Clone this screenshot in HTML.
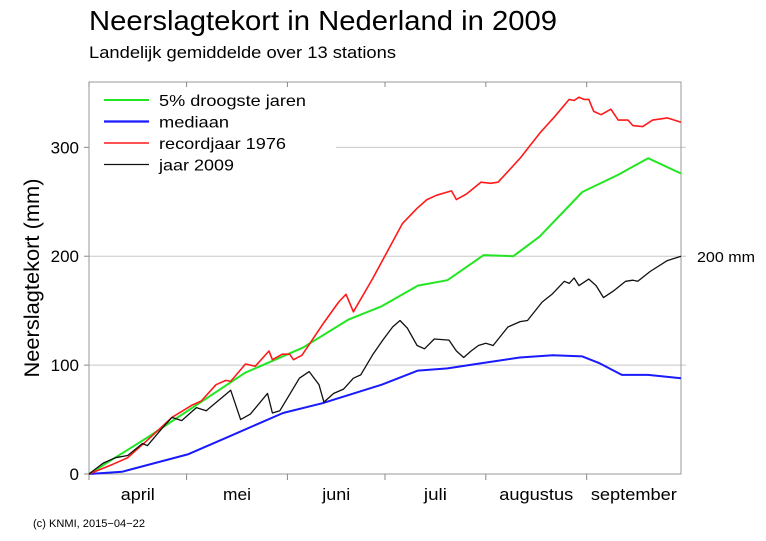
<!DOCTYPE html>
<html><head><meta charset="utf-8"><style>
html,body{margin:0;padding:0;background:#fff;}
svg{display:block;font-family:"Liberation Sans",sans-serif;}
</style></head><body>
<svg id="chart" width="766" height="541" viewBox="0 0 766 541">
<text x="89" y="30" font-size="28" textLength="468" lengthAdjust="spacingAndGlyphs">Neerslagtekort in Nederland in 2009</text>
<text x="89" y="58" font-size="17" textLength="307" lengthAdjust="spacingAndGlyphs">Landelijk gemiddelde over 13 stations</text>
<text transform="translate(39,278) rotate(-90)" text-anchor="middle" font-size="21" textLength="199" lengthAdjust="spacingAndGlyphs">Neerslagtekort (mm)</text>
<g id="grid"></g>
<g id="axes"></g>
<g id="series"></g>
<g id="legend"></g>
<text x="697" y="262" font-size="15" textLength="58" lengthAdjust="spacingAndGlyphs">200 mm</text>
<text x="33" y="527" font-size="11" textLength="112" lengthAdjust="spacingAndGlyphs">(c) KNMI, 2015−04−22</text>
</svg>
<script>
const yTicks = [0, 100, 200, 300];
const months = ["april", "mei", "juni", "juli", "augustus", "september"];
const monthStarts = [0, 30, 61, 91, 122, 153];
const greenDays = [0,18,47.5,65,79,89,100,109,120,129,137,150,161,170,180];
const greenVals = [0,34,93,116,142,154,173,178,201,200,218,259,275,290,276];
const blueDays = [0,10,30,43,59,71,89,100,109,120,131,141,150,155,162,170,180];
const blueVals = [0,2,18,35,56,65,82,95,97,102,107,109,108,102,91,91,88];
const redZx = [181,230,260,300,350,390,410,440,460,470,500,520,548,555,575,590,598,615,660,690,705,720,760,820,850,870,890,920,930,950,980,1000,1015,1060,1100,1130,1160,1170,1180,1190,1200,1210,1225,1245,1260,1280,1290,1310,1330,1360,1388];
const redVals = [0,9,15,31,52,63,67,82,86,85,101,99,113,105,110,110,105,109,139,158,165,149,180,230,244,252,256,260,252,257,268,267,268,290,313,328,344,343,346,344,344,333,330,335,325,325,320,319,325,327,323];
const blackZx = [181,210,235,260,290,300,330,350,370,400,420,470,490,510,545,555,570,610,630,650,660,680,700,720,735,760,780,800,815,830,850,865,885,915,930,945,960,975,990,1005,1035,1060,1075,1105,1125,1150,1160,1170,1180,1200,1215,1230,1250,1275,1290,1300,1325,1360,1388];
const blackVals = [0,10,15,17,28,26,42,52,49,61,58,77,50,55,74,56,58,88,94,82,66,74,78,88,91,110,123,135,141,134,118,115,124,123,113,107,113,118,120,118,135,140,141,158,165,177,175,180,173,179,173,162,168,177,178,177,186,196,200];

const X0 = 89, X1 = 681, Y0 = 474, YTOP = 82, DMAX = 182, VMAX = 360;
const READ = 182 / 180;
const redDays = redZx.map(z => (z - 181) * 180 / 1207 * READ);
const blackDays = blackZx.map(z => (z - 181) * 180 / 1207 * READ);
const greenDaysA = greenDays.map(d => d * READ);
const blueDaysA = blueDays.map(d => d * READ);
const xs = d => X0 + d * (X1 - X0) / DMAX;
const ys = v => Y0 - v * (Y0 - YTOP) / VMAX;
const NS = "http://www.w3.org/2000/svg";
function mk(tag, attrs, parent) {
  const e = document.createElementNS(NS, tag);
  for (const k in attrs) e.setAttribute(k, attrs[k]);
  parent.appendChild(e);
  return e;
}
const grid = document.getElementById("grid"), axes = document.getElementById("axes"),
      series = document.getElementById("series"), legend = document.getElementById("legend");

yTicks.forEach(t => {
  if (t > 0) {
    const gx = t === 300 ? 336 : X0;
    const g = mk("line", {x1: gx, x2: X1 + 5, y1: ys(t), y2: ys(t), stroke: "#c8c8c8", "stroke-width": 1}, grid);
    
    
  }
  const tk = mk("line", {x1: X0, x2: X0 - 5, y1: ys(t), y2: ys(t), stroke: "#888"}, axes);
  
  
  const lb = mk("text", {x: X0 - 10, y: ys(t) + 6, "text-anchor": "end", "font-size": 17}, axes);
  lb.textContent = t;
  
  
});
const frame = mk("rect", {x: X0, y: YTOP, width: X1 - X0, height: Y0 - YTOP, fill: "none", stroke: "#999", "stroke-width": 1}, axes);


const monthWidths = [34, 28, 28, 23, 74, 86];
monthStarts.forEach((m, i) => {
  [Y0, YTOP].forEach(yy => {
    const t = mk("line", {x1: xs(m), x2: xs(m), y1: yy, y2: yy === Y0 ? Y0 + 6 : YTOP + 5, stroke: "#888"}, axes);
    
    
  });
  const next = i + 1 < monthStarts.length ? monthStarts[i + 1] : DMAX;
  const lb = mk("text", {x: (xs(m) + xs(next)) / 2, y: 500, "text-anchor": "middle", "font-size": 17, textLength: monthWidths[i], lengthAdjust: "spacingAndGlyphs"}, axes);
  lb.textContent = months[i];
  
  
});

function line(days, vals, color, w, name) {
  const d = days.map((dd, i) => (i ? "L" : "M") + xs(dd).toFixed(1) + "," + ys(vals[i]).toFixed(1)).join("");
  const p = mk("path", {d: d, fill: "none", stroke: color, "stroke-width": w, "stroke-linejoin": "round"}, series);
  
  
}
line(blueDaysA, blueVals, "#1a1aff", 2, "series-mediaan");
line(greenDaysA, greenVals, "#22e622", 2, "series-5pct-droogste");
line(redDays, redVals, "#ff1a1a", 1.6, "series-recordjaar-1976");
line(blackDays, blackVals, "#111", 1.3, "series-jaar-2009");

const legItems = [["5% droogste jaren", "#22e622", 2, 147], ["mediaan", "#1a1aff", 2.2, 70], ["recordjaar 1976", "#ff1a1a", 1.6, 127], ["jaar 2009", "#111", 1.3, 75]];
legItems.forEach((it, i) => {
  const y = 100 + i * 21.5;
  const l = mk("line", {x1: 104, x2: 149, y1: y, y2: y, stroke: it[1], "stroke-width": it[2]}, legend);
  
  
  const t = mk("text", {x: 159, y: y + 6, "font-size": 16, textLength: it[3], lengthAdjust: "spacingAndGlyphs"}, legend);
  t.textContent = it[0];
  
  
});
</script>
</body></html>
